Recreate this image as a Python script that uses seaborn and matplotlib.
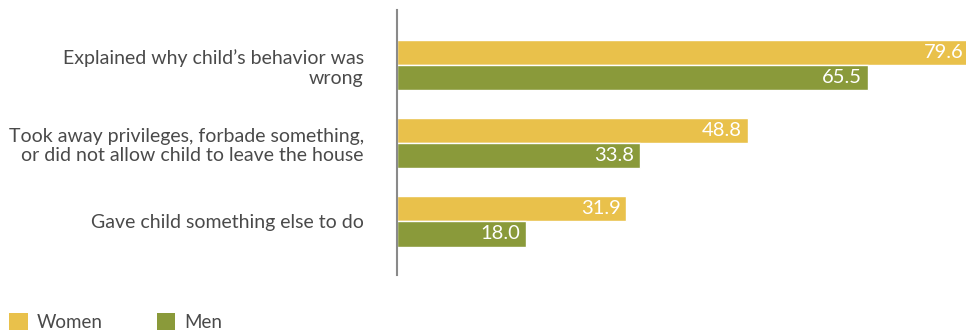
import matplotlib
matplotlib.use("Agg")
import matplotlib.pyplot as plt
import seaborn as sns
import pandas as pd
from matplotlib.patches import Patch

categories = [
    "Explained why child\u2019s behavior was\nwrong",
    "Took away privileges, forbade something,\nor did not allow child to leave the house",
    "Gave child something else to do",
]
women = [79.6, 48.8, 31.9]
men = [65.5, 33.8, 18.0]
series = ["Women", "Men"]
colors = ["#E9C14B", "#8A9A3A"]

df = pd.DataFrame({
    "category": categories * 2,
    "value": women + men,
    "series": ["Women"] * 3 + ["Men"] * 3,
})

sns.set_theme(style="white")
plt.rcParams["font.family"] = ["Lato", "DejaVu Sans"]

fig = plt.figure(figsize=(9.66, 3.31), dpi=100)
ax = fig.add_axes([397 / 966, 1 - 275 / 331, 1 - 397 / 966, (275 - 10) / 331])

sns.barplot(data=df, x="value", y="category", hue="series", order=categories,
            hue_order=series, palette=colors, width=0.65, gap=0, orient="h",
            ax=ax, legend=False, saturation=1)

ax.set_xlim(0, 79.15)
ax.set_ylim(2.69, -0.705)
ax.set_xlabel("")
ax.set_ylabel("")
ax.set_xticks([])
for s in ["top", "right", "bottom"]:
    ax.spines[s].set_visible(False)
ax.spines["left"].set_color("#8a8a8a")
ax.spines["left"].set_linewidth(1.5)
ax.tick_params(axis="y", length=0, pad=24)
for lab in ax.get_yticklabels():
    lab.set_fontsize(14.0)
    lab.set_color("#4a4a4a")
    lab.set_multialignment("right")
    lab.set_linespacing(1.2)

for cont in ax.containers:
    for bar in cont:
        w = bar.get_width()
        ax.text(w - 0.8, bar.get_y() + bar.get_height() / 2, f"{w:.1f}",
                ha="right", va="center", color="white", fontsize=14.5,
                clip_on=False)

handles = [Patch(facecolor=c, edgecolor="none") for c in colors]
fig.legend(handles, series, loc="lower left", bbox_to_anchor=(-0.008, -0.05),
           ncol=2, frameon=False, fontsize=13.5, handlelength=1.0, handleheight=1.0,
           columnspacing=2.9, handletextpad=0.45, labelcolor="#4a4a4a")

fig.savefig("out.png", dpi=100)
